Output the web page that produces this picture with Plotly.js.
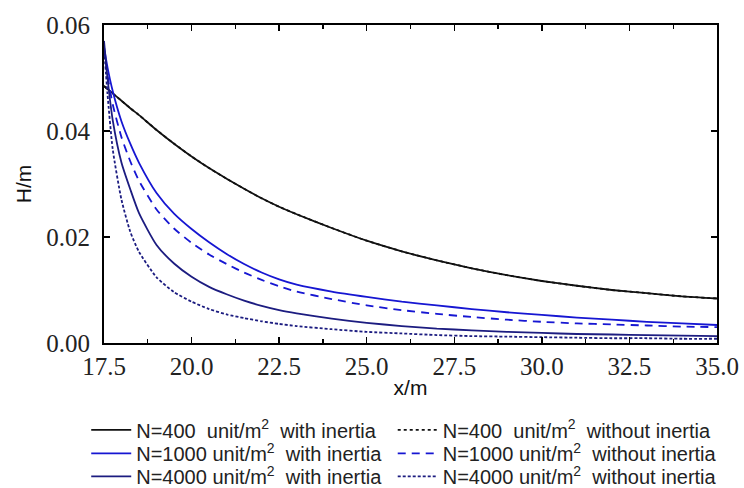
<!DOCTYPE html>
<html>
<head>
<meta charset="utf-8">
<script src="https://cdn.plot.ly/plotly-3.0.1.min.js"></script>
<style>html,body{margin:0;padding:0;background:#fff;}#chart{width:744px;height:488px;}</style>
</head>
<body>
<div id="chart"></div>
<script>
var xPos = [17.5, 17.6, 17.75, 18, 18.25, 18.5, 19, 19.5, 20, 20.5, 21, 21.5, 22, 22.5, 23, 24, 25, 26, 27, 28, 29, 30, 31, 32, 33, 34, 35];

var h400With    = [0.0485, 0.0479, 0.0471, 0.0457, 0.0443, 0.0430, 0.0402, 0.0376, 0.0352, 0.0330, 0.0310, 0.0291, 0.0273, 0.0257, 0.0243, 0.0217, 0.0193, 0.0173, 0.0156, 0.0141, 0.0128, 0.0117, 0.0108, 0.0100, 0.0094, 0.0088, 0.0084];
var h400Without = [0.0485, 0.0479, 0.0471, 0.0457, 0.0443, 0.0430, 0.0402, 0.0376, 0.0352, 0.0330, 0.0310, 0.0291, 0.0273, 0.0257, 0.0243, 0.0217, 0.0193, 0.0173, 0.0156, 0.0141, 0.0128, 0.0117, 0.0108, 0.0100, 0.0094, 0.0088, 0.0084];
var h1000With    = [0.0558, 0.0520, 0.0475, 0.0418, 0.0376, 0.0340, 0.0283, 0.0244, 0.0215, 0.0190, 0.0168, 0.0149, 0.0133, 0.0120, 0.0110, 0.0097, 0.0087, 0.0078, 0.0071, 0.0064, 0.0058, 0.0053, 0.0048, 0.0044, 0.0040, 0.0037, 0.0034];
var h1000Without = [0.0555, 0.0505, 0.0450, 0.0388, 0.0343, 0.0306, 0.0252, 0.0216, 0.0189, 0.0167, 0.0149, 0.0133, 0.0119, 0.0107, 0.0097, 0.0083, 0.0071, 0.0062, 0.0055, 0.0049, 0.0044, 0.0040, 0.0037, 0.0035, 0.0033, 0.0031, 0.0030];
var h4000With    = [0.0570, 0.0500, 0.0420, 0.0340, 0.0290, 0.0245, 0.0185, 0.0150, 0.0125, 0.0106, 0.0092, 0.0080, 0.0070, 0.0062, 0.0056, 0.0046, 0.0038, 0.0032, 0.0027, 0.0024, 0.0021, 0.0019, 0.0017, 0.0016, 0.0015, 0.0014, 0.0013];
var h4000Without = [0.0560, 0.0470, 0.0365, 0.0270, 0.0210, 0.0172, 0.0124, 0.0096, 0.0078, 0.0064, 0.0054, 0.0047, 0.0041, 0.0036, 0.0032, 0.0026, 0.0021, 0.0018, 0.0015, 0.0013, 0.0012, 0.0011, 0.0010, 0.0009, 0.0009, 0.0008, 0.0008];

var names = [
  "N=400\u00a0 unit/m<sup>2</sup>\u00a0 with inertia",
  "N=400\u00a0 unit/m<sup>2</sup>\u00a0 without inertia",
  "N=1000 unit/m<sup>2</sup>\u00a0 with inertia",
  "N=1000 unit/m<sup>2</sup>\u00a0 without inertia",
  "N=4000 unit/m<sup>2</sup>\u00a0 with inertia",
  "N=4000 unit/m<sup>2</sup>\u00a0 without inertia"
];
var xTickVals = [17.5, 20.0, 22.5, 25.0, 27.5, 30.0, 32.5, 35.0];
var yTickVals = [0.00, 0.02, 0.04, 0.06];

var cBlack = "#111111", cBlue = "#1616d2", cNavy = "#1c1c80";
var legendIds = ["legend", "legend2", "legend3", "legend4", "legend5", "legend6"];
function tr(y, i, color, dash) {
  return {x: xPos, y: y, name: names[i], type: "scatter", mode: "lines", legend: legendIds[i],
    line: {color: color, width: 1.8, dash: dash, shape: "spline", smoothing: 0.6}};
}
var data = [
  tr(h400With, 0, cBlack, "solid"),
  tr(h400Without, 1, cBlack, "3px,3px"),
  tr(h1000With, 2, cBlue, "solid"),
  tr(h1000Without, 3, cBlue, "8px,6px"),
  tr(h4000With, 4, cNavy, "solid"),
  tr(h4000Without, 5, cNavy, "3px,2px")
];

var legendFont = {family: "Liberation Sans", size: 20, color: "#222"};
function leg(x, y) {
  return {orientation: "v", x: x, xanchor: "left", y: y, yanchor: "top",
    itemwidth: 40, font: legendFont, bgcolor: "rgba(0,0,0,0)", borderwidth: 0};
}
var colX = [-0.029, 0.471];
var rowY = [-0.212, -0.286, -0.358];

var layout = {
  width: 744, height: 488,
  margin: {l: 104, r: 27, t: 25, b: 145, autoexpand: false},
  paper_bgcolor: "#fff", plot_bgcolor: "#fff",
  font: {family: "Liberation Sans", size: 18, color: "#222"},
  showlegend: true,
  xaxis: {
    range: [17.5, 35], tickmode: "array", tickvals: xTickVals, tickformat: ".1f",
    showline: true, linecolor: "#000", linewidth: 2, mirror: "ticks",
    ticks: "inside", ticklen: 6, tickwidth: 1.5, tickcolor: "#000",
    minor: {dtick: 1.25, tick0: 17.5, ticks: "inside", ticklen: 4, tickwidth: 1.2, tickcolor: "#000"},
    showgrid: false, zeroline: false,
    tickfont: {family: "Liberation Serif", size: 25, color: "#222"},
    title: {text: "x/m", font: {family: "Liberation Sans", size: 21, color: "#111"}, standoff: 1}
  },
  yaxis: {
    range: [0, 0.06], tickmode: "array", tickvals: yTickVals, tickformat: ".2f",
    showline: true, linecolor: "#000", linewidth: 2, mirror: "ticks",
    ticks: "inside", ticklen: 6, tickwidth: 1.5, tickcolor: "#000",
    showgrid: false, zeroline: false, ticklabelstandoff: 7,
    tickfont: {family: "Liberation Serif", size: 25, color: "#222"},
    title: {text: "H/m", font: {family: "Liberation Sans", size: 21, color: "#111"}, standoff: 9}
  },
  legend: leg(colX[0], rowY[0]),
  legend2: leg(colX[1], rowY[0]),
  legend3: leg(colX[0], rowY[1]),
  legend4: leg(colX[1], rowY[1]),
  legend5: leg(colX[0], rowY[2]),
  legend6: leg(colX[1], rowY[2])
};
Plotly.newPlot("chart", data, layout, {displayModeBar: false, staticPlot: true});
</script>
</body>
</html>
